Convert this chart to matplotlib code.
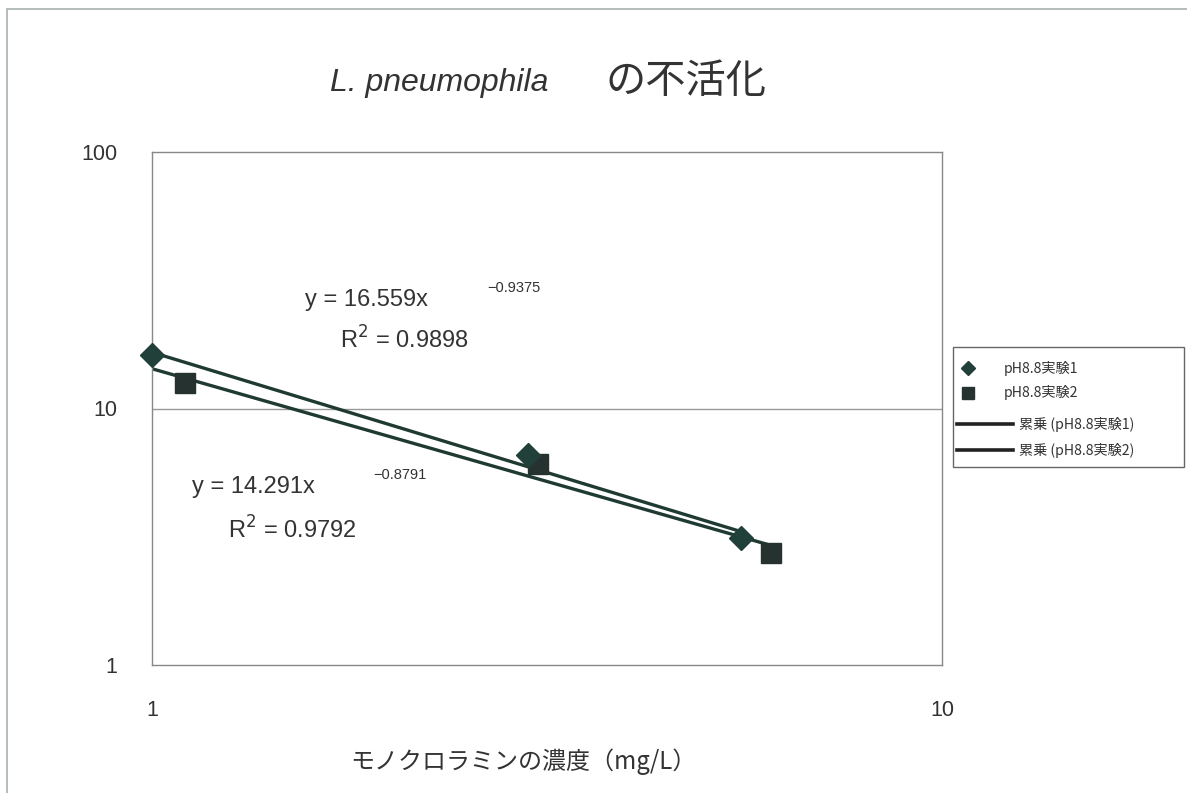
import matplotlib
matplotlib.use("Agg")
import matplotlib.pyplot as plt
import numpy as np
from matplotlib.patches import Rectangle
from matplotlib.lines import Line2D

plt.rcParams['font.family'] = ['Liberation Sans', 'Noto Sans CJK JP', 'DejaVu Sans']

# Data
exp1_x = [1.0, 2.99, 5.57]
exp1_y = [16.2, 6.6, 3.13]
exp2_x = [1.10, 3.08, 6.07]
exp2_y = [12.6, 6.08, 2.73]

# Power trendline coefficients shown in the chart
fit1_coef, fit1_exp = 16.559, -0.9375
fit2_coef, fit2_exp = 14.291, -0.8791
fit1_r2, fit2_r2 = "0.9898", "0.9792"

legend_labels = ["pH8.8実験1", "pH8.8実験2", "累乗 (pH8.8実験1)", "累乗 (pH8.8実験2)"]
x_ticks = [1, 10]
y_ticks = [1, 10, 100]

W, H = 1187, 793
fig = plt.figure(figsize=(W / 100, H / 100), dpi=100)
ax = fig.add_axes([152 / W, 1 - 665 / H, (942 - 152) / W, (665 - 152) / H])

def fx(px):
    return px / W

def fy(py):
    return 1 - py / H

# outer chart border
fig.add_artist(Rectangle((fx(7), -0.05), 1.2, fy(9) + 0.05, transform=fig.transFigure,
                         fill=False, edgecolor='#a8b0b0', linewidth=1.2))

txt = '#333333'
mk1 = '#22403a'
mk2 = '#263230'
ln = '#1e3a32'

ax.set_xscale('log')
ax.set_yscale('log')
ax.set_xlim(1, 10)
ax.set_ylim(1, 100)

ax.axhline(10, color='#999999', linewidth=1.0, zorder=1)

# trendlines
tx1 = np.geomspace(1.0, max(exp1_x), 50)
tx2 = np.geomspace(1.0, max(exp2_x), 50)
ax.plot(tx1, fit1_coef * tx1 ** fit1_exp, color=ln, linewidth=2.4, zorder=2)
ax.plot(tx2, fit2_coef * tx2 ** fit2_exp, color=ln, linewidth=2.4, zorder=2)

ax.plot(exp1_x, exp1_y, linestyle='none', marker='D', markersize=12.5, color=mk1, zorder=4, clip_on=False)
ax.plot(exp2_x, exp2_y, linestyle='none', marker='s', markersize=14, color=mk2, zorder=3, clip_on=False)

for s in ax.spines.values():
    s.set_color('#888888')
    s.set_linewidth(1.0)

ax.set_xticks(x_ticks)
ax.set_xticklabels([str(v) for v in x_ticks])
ax.set_yticks(y_ticks)
ax.set_yticklabels([str(v) for v in y_ticks])
ax.xaxis.set_minor_locator(matplotlib.ticker.NullLocator())
ax.yaxis.set_minor_locator(matplotlib.ticker.NullLocator())
ax.tick_params(axis='both', length=0, labelsize=15.5, labelcolor=txt)
ax.tick_params(axis='x', pad=25)
ax.tick_params(axis='y', pad=25)

# title
fig.text(fx(330), fy(83), "L. pneumophila", fontsize=23, style='italic', color=txt,
         ha='left', va='center')
fig.text(fx(606), fy(81), "の不活化", fontsize=29, color=txt, ha='left', va='center',
         family=['Noto Sans CJK JP'])

# x-axis label
fig.text(fx(523), fy(762), "モノクロラミンの濃度（mg/L）", fontsize=17.3, color=txt,
         ha='center', va='center', family=['Noto Sans CJK JP'])

# equations
eq_fs = 17
fig.text(fx(305), fy(300), "y = %.3fx" % fit1_coef, fontsize=eq_fs, color=txt, ha='left', va='center')
fig.text(fx(487), fy(288), "\u2212%.4f" % abs(fit1_exp), fontsize=10.5, color=txt, ha='left', va='center')
fig.text(fx(340), fy(340), "R$^{2}$ = " + fit1_r2, fontsize=eq_fs, color=txt, ha='left', va='center')
fig.text(fx(192), fy(487), "y = %.3fx" % fit2_coef, fontsize=eq_fs, color=txt, ha='left', va='center')
fig.text(fx(373), fy(475), "\u2212%.4f" % abs(fit2_exp), fontsize=10.5, color=txt, ha='left', va='center')
fig.text(fx(228), fy(530), "R$^{2}$ = " + fit2_r2, fontsize=eq_fs, color=txt, ha='left', va='center')

# legend (drawn manually to match layout)
fig.add_artist(Rectangle((fx(953), fy(467)), (1184 - 953) / W, 120 / H, transform=fig.transFigure,
                         facecolor='white', edgecolor='#666666', linewidth=1.0))
row_y = [368, 393, 424, 450]
fig.add_artist(Line2D([fx(968)], [fy(row_y[0])], linestyle='none', marker='D', markersize=7.5,
                      color=mk1, transform=fig.transFigure))
fig.add_artist(Line2D([fx(968)], [fy(row_y[1])], linestyle='none', marker='s', markersize=9,
                      color=mk2, transform=fig.transFigure))
for ry in row_y[2:]:
    fig.add_artist(Line2D([fx(957), fx(1013)], [fy(ry), fy(ry)], color='#222222', linewidth=2.6,
                          transform=fig.transFigure))
lab_x = [1004, 1004, 1019, 1019]
for lx, ry, lab in zip(lab_x, row_y, legend_labels):
    fig.text(fx(lx), fy(ry), lab, fontsize=10.2, color=txt, ha='left', va='center',
             family=['Noto Sans CJK JP'])

fig.savefig("out.png", dpi=100)
